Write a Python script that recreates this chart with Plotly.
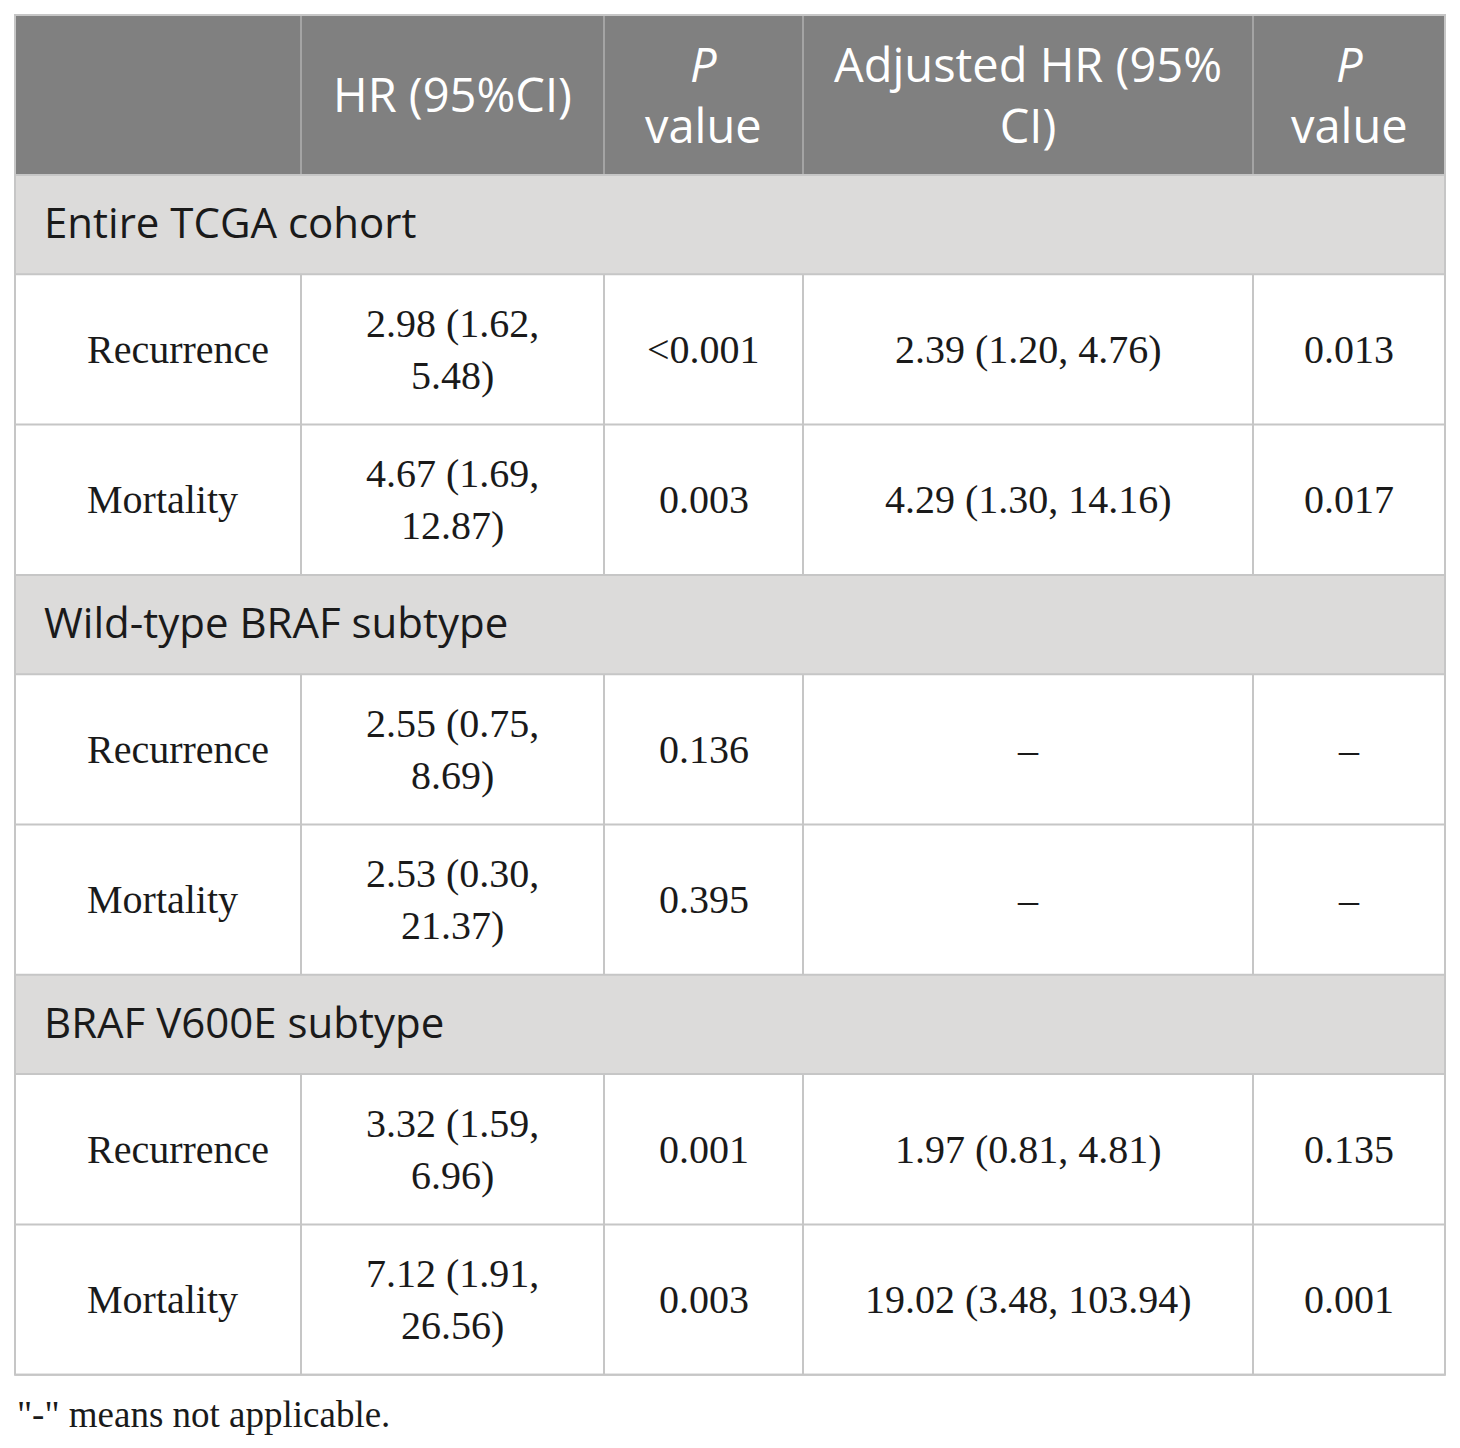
import plotly.graph_objects as go

# ---- data ----
columns = ["", "HR (95%CI)", "<i>P</i><br>value", "Adjusted HR (95%<br>CI)", "<i>P</i><br>value"]
groups = ["Entire TCGA cohort", "Wild-type BRAF subtype", "BRAF V600E subtype"]
outcomes = ["Recurrence", "Mortality", "Recurrence", "Mortality", "Recurrence", "Mortality"]
hr = ["2.98 (1.62, 5.48)", "4.67 (1.69, 12.87)", "2.55 (0.75, 8.69)",
      "2.53 (0.30, 21.37)", "3.32 (1.59, 6.96)", "7.12 (1.91, 26.56)"]
p_hr = ["<0.001", "0.003", "0.136", "0.395", "0.001", "0.003"]
adj_hr = ["2.39 (1.20, 4.76)", "4.29 (1.30, 14.16)", "–", "–", "1.97 (0.81, 4.81)", "19.02 (3.48, 103.94)"]
p_adj = ["0.013", "0.017", "–", "–", "0.135", "0.001"]
footnote = '"-" means not applicable.'

# ---- layout geometry (page pixel coordinates) ----
PAGE_W, PAGE_H = 1460, 1448
OFF = 8  # browser body margin
col_x = [15, 301, 604, 803, 1253, 1445]
top = 15
header_h = 160
section_h = 99.3
data_h = 150.3

HEADER_BG = "#808080"
SECTION_BG = "#dcdbda"
LINE = "#c6c6c6"
SANS = "Open Sans"
SERIF = "Liberation Serif"

shapes = []
annotations = []

def ann(x, y, text, size, color="#1a1a1a", family=SERIF, xanchor="center"):
    annotations.append(dict(x=x, y=y, xref="x", yref="y", text=text, showarrow=False,
                            xanchor=xanchor, yanchor="middle", align="center",
                            font=dict(family=family, size=size, color=color)))

def cx(i):
    return (col_x[i] + col_x[i + 1]) / 2

# header
y0 = top
y1 = top + header_h
shapes.append(dict(type="rect", x0=col_x[0], x1=col_x[-1], y0=y0, y1=y1,
                   fillcolor=HEADER_BG, line=dict(width=0), layer="below"))
for i, c in enumerate(columns):
    if c:
        ann(cx(i), (y0 + y1) / 2 - 1, c, 47, color="white", family=SANS)
for xv in col_x[1:-1]:
    shapes.append(dict(type="line", x0=xv, x1=xv, y0=y0, y1=y1, line=dict(color="#a4a4a4", width=2)))

y = y1
row_lines = [y]
k = 0
for g in groups:
    sy0, sy1 = y, y + section_h
    shapes.append(dict(type="rect", x0=col_x[0], x1=col_x[-1], y0=sy0, y1=sy1,
                       fillcolor=SECTION_BG, line=dict(width=0), layer="below"))
    ann(col_x[0] + 27, (sy0 + sy1) / 2 - 3, g, 42, color="#1a1a1a", family=SANS, xanchor="left")
    y = sy1
    row_lines.append(y)
    for _ in range(2):
        dy0, dy1 = y, y + data_h
        ym = (dy0 + dy1) / 2
        ann(col_x[0] + 70, ym, outcomes[k], 40, xanchor="left")
        vals = [hr[k].replace(", ", ",<br>"), p_hr[k].replace("<", "&lt;"), adj_hr[k], p_adj[k]]
        for i, v in enumerate(vals, start=1):
            ann(cx(i), ym, v, 40)
        for xv in col_x[1:-1]:
            shapes.append(dict(type="line", x0=xv, x1=xv, y0=dy0, y1=dy1, line=dict(color=LINE, width=2)))
        y = dy1
        row_lines.append(y)
        k += 1

for yv in row_lines:
    shapes.append(dict(type="line", x0=col_x[0], x1=col_x[-1], y0=yv, y1=yv, line=dict(color=LINE, width=2)))
shapes.append(dict(type="rect", x0=col_x[0], x1=col_x[-1], y0=top, y1=y,
                   line=dict(color=LINE, width=2), fillcolor="rgba(0,0,0,0)"))

ann(col_x[0], y + 40, footnote, 37, xanchor="left")

fig = go.Figure()
fig.update_layout(
    width=PAGE_W - OFF, height=PAGE_H - OFF,
    margin=dict(l=0, r=0, t=0, b=0),
    paper_bgcolor="white", plot_bgcolor="white",
    xaxis=dict(range=[OFF, PAGE_W], visible=False, fixedrange=True),
    yaxis=dict(range=[PAGE_H, OFF], visible=False, fixedrange=True),
    shapes=shapes, annotations=annotations, showlegend=False,
)
fig.write_html("out.html")
